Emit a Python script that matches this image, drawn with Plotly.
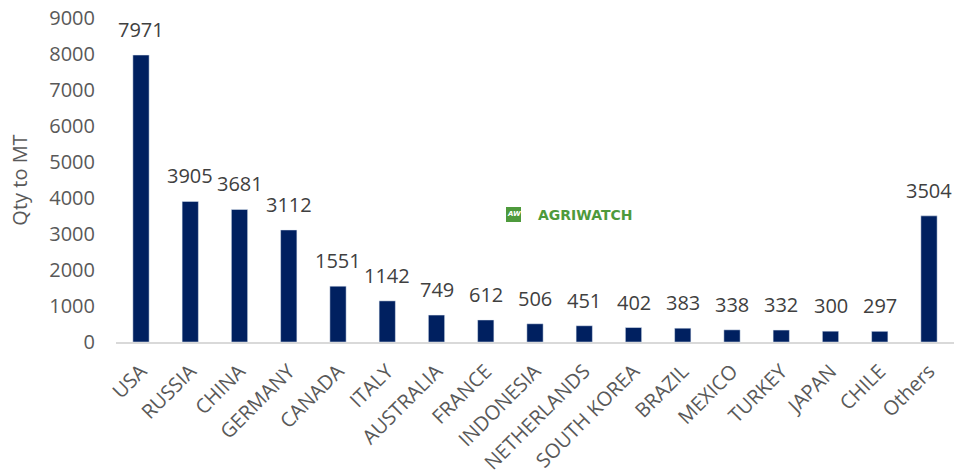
import plotly.graph_objects as go

countries = ["USA", "RUSSIA", "CHINA", "GERMANY", "CANADA", "ITALY", "AUSTRALIA", "FRANCE",
             "INDONESIA", "NETHERLANDS", "SOUTH KOREA", "BRAZIL", "MEXICO", "TURKEY", "JAPAN",
             "CHILE", "Others"]
qty = [7971, 3905, 3681, 3112, 1551, 1142, 749, 612, 506, 451, 402, 383, 338, 332, 300, 297, 3504]
y_ticks = [0, 1000, 2000, 3000, 4000, 5000, 6000, 7000, 8000, 9000]

FONT = "Open Sans"
GREY = "#595959"

L, R, T, B = 116, 10, 18, 133
W, H = 964, 475
PW, PH = W - L - R, H - T - B

fig = go.Figure(go.Bar(x=countries, y=qty, marker_color="#002060", width=0.33))

for c, v in zip(countries, qty):
    fig.add_annotation(x=c, y=v, text=str(v), showarrow=False, yanchor="bottom",
                       yshift=10, font=dict(family=FONT, size=20, color="#404040"))

fig.update_layout(
    width=W, height=H,
    margin=dict(l=L, r=R, t=T, b=B),
    plot_bgcolor="white", paper_bgcolor="white",
    showlegend=False,
    font=dict(family=FONT, color=GREY),
    xaxis=dict(tickangle=-45, tickfont=dict(family=FONT, size=20, color=GREY),
               showline=True, linecolor="#d9d9d9", linewidth=1.5, ticks="",
               showgrid=False, automargin=False, ticklabelstandoff=8),
    yaxis=dict(range=[0, 9000], tickvals=y_ticks, showgrid=False, zeroline=False,
               tickfont=dict(family=FONT, size=20, color=GREY), ticks="",
               automargin=False, ticklabelstandoff=20,
               title=dict(text="Qty to MT", font=dict(family=FONT, size=20, color=GREY),
                          standoff=16)),
)

# watermark logo
def px(x):
    return (x - L) / PW

def py(y):
    return (H - B - y) / PH

fig.add_shape(type="rect", xref="paper", yref="paper",
              x0=px(506), x1=px(521), y0=py(222), y1=py(207),
              fillcolor="#4e9a3c", line=dict(width=0), layer="above")
fig.add_annotation(xref="paper", yref="paper", x=px(513.5), y=py(214.5),
                   text="<i><b>AW</b></i>", showarrow=False,
                   font=dict(family="DejaVu Sans", size=7, color="white"))
fig.add_annotation(xref="paper", yref="paper", x=px(536), y=py(215),
                   xanchor="left", text="<b>AGRIWATCH</b>", showarrow=False,
                   font=dict(family="DejaVu Sans", size=14, color="#4e9a3c"))

fig.write_html("out.html", config={"displayModeBar": False},
               post_script="document.body.style.margin='0';")
